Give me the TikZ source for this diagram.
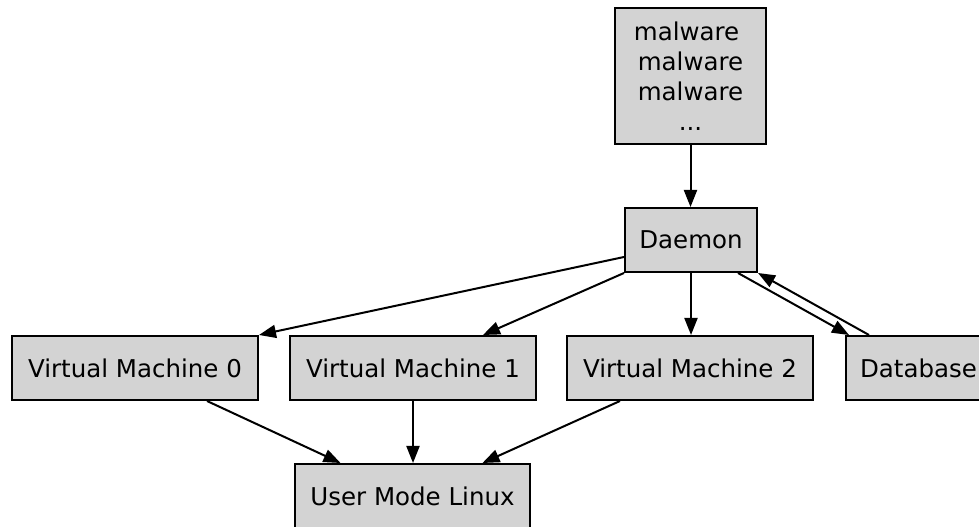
\documentclass[tikz,border=0pt]{standalone}
\usepackage{fontspec}
\setmainfont{DejaVu Sans}
\usetikzlibrary{arrows.meta}
\definecolor{boxfill}{RGB}{211,211,211}
\tikzset{
  box/.style={draw=black, fill=boxfill, line width=2bp, rectangle,
    inner sep=0pt, minimum height=64bp, align=center,
    font=\fontsize{24.5bp}{30bp}\selectfont},
  link/.style={draw=black, line width=2bp,
    -{Triangle[length=17bp,width=13bp]}}
}
\begin{document}
\begin{tikzpicture}[x=1bp,y=1bp]
\useasboundingbox (0,0) rectangle (979,527);

% nodes
\node[box, minimum width=151bp, minimum height=136bp] (mal) at (690.5,451)
  {malware\hspace*{0.32em}\\malware\\malware\\...};
\node[box, minimum width=132bp] (dae) at (691,287) {Daemon};
\node[box, minimum width=246bp] (vm0) at (135,159) {Virtual Machine 0};
\node[box, minimum width=246bp] (vm1) at (413,159) {Virtual Machine 1};
\node[box, minimum width=246bp] (vm2) at (690,159) {Virtual Machine 2};
\node[box, minimum width=145bp] (db) at (918.5,159) {Database};
\node[box, minimum width=235bp] (ulm) at (412.5,31) {User Mode Linux};

% connectors
\draw[link] (mal.south) -- (mal.south |- dae.north);
\draw[link] ([yshift=-17bp]dae.west) -- (vm0.north east);
\draw[link] (dae.south west) -- ([xshift=70bp]vm1.north);
\draw[link] (dae.south) -- (dae.south |- vm2.north);
\draw[link] ([xshift=47bp]dae.south) -- ([xshift=4bp]db.north west);
\draw[link] ([xshift=24bp]db.north west) -- (dae.south east);
\draw[link] ([xshift=72bp]vm0.south) -- ([xshift=-72bp]ulm.north);
\draw[link] (vm1.south) -- (vm1.south |- ulm.north);
\draw[link] ([xshift=-70bp]vm2.south) -- ([xshift=70bp]ulm.north);
\end{tikzpicture}
\end{document}
